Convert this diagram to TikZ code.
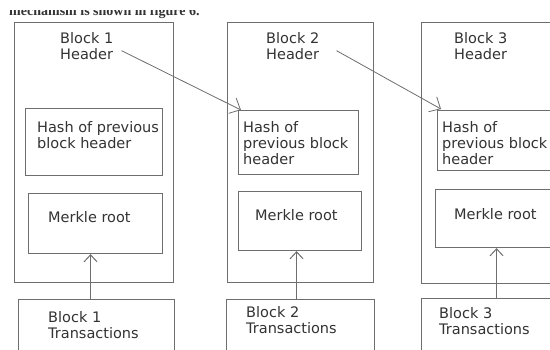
\documentclass[tikz,border=0pt]{standalone}
\usepackage{fontspec}
\setmainfont{DejaVu Sans}
\newfontfamily\capfont{Liberation Serif}
\usepackage{tikz}
\usetikzlibrary{arrows.meta,positioning}
\definecolor{edge}{HTML}{6E6E6E}
\definecolor{ink}{HTML}{333333}

\begin{document}
\begin{tikzpicture}[
  x=1pt, y=-1pt,
  box/.style={draw=edge, line width=1.1pt, anchor=north west, inner sep=0pt},
  txt/.style={anchor=north west, inner sep=0pt, align=left, text=ink, font=\fontsize{14.5}{16}\selectfont},
  arr/.style={-{Straight Barb[length=9pt,width=17pt]}, draw=edge, line width=0.8pt},
  uarr/.style={-{Straight Barb[length=7pt,width=13pt]}, draw=edge, line width=1pt}
]
  \useasboundingbox[fill=white] (0,0) rectangle (550,349);
  \clip (0,0) rectangle (550,349);

  % tail of the sentence above the figure
  \begin{scope}
    \clip (0,10.5) rectangle (550,349);
    \node[anchor=base west, inner sep=0pt, text=ink, font=\capfont\bfseries\fontsize{14}{16}\selectfont] (cap) at (9,15) {mechanism is shown in figure 6.};
  \end{scope}

  % Block 1
  \node[box, minimum width=159pt, minimum height=260pt] (blk1) at (14,22) {};
  \node[box, minimum width=137pt, minimum height=67pt] (hash1) at (25,108) {};
  \node[box, minimum width=134pt, minimum height=60pt] (mrk1) at (28,193) {};
  \node[box, minimum width=156pt, minimum height=70pt] (tx1) at (18,299) {};
  \node[txt, below right=10.2pt and 46pt of blk1.north west] (hdr1) {Block 1\\Header};
  \node[txt, below right=13.2pt and 12pt of hash1.north west] (hashtxt1) {Hash of previous\\block header};
  \node[txt, below right=18.2pt and 20pt of mrk1.north west] (mrktxt1) {Merkle root};
  \node[txt, below right=12.2pt and 30pt of tx1.north west] (txtxt1) {Block 1\\Transactions};

  % Block 2
  \node[box, minimum width=146pt, minimum height=260pt] (blk2) at (227,22) {};
  \node[box, minimum width=120pt, minimum height=64pt] (hash2) at (238,110) {};
  \node[box, minimum width=123pt, minimum height=59pt] (mrk2) at (238,191) {};
  \node[box, minimum width=148pt, minimum height=70pt] (tx2) at (226,299) {};
  \node[txt, below right=10.2pt and 39pt of blk2.north west] (hdr2) {Block 2\\Header};
  \node[txt, below right=11.2pt and 5pt of hash2.north west] (hashtxt2) {Hash of\\previous block\\header};
  \node[txt, below right=18.2pt and 17pt of mrk2.north west] (mrktxt2) {Merkle root};
  \node[txt, below right=7.2pt and 20pt of tx2.north west] (txtxt2) {Block 2\\Transactions};

  % Block 3 (runs off the right edge)
  \node[box, minimum width=170pt, minimum height=261pt] (blk3) at (421,22) {};
  \node[box, minimum width=145pt, minimum height=60pt] (hash3) at (437,110) {};
  \node[box, minimum width=145pt, minimum height=58pt] (mrk3) at (435,189) {};
  \node[box, minimum width=170pt, minimum height=70pt] (tx3) at (421,298) {};
  \node[txt, below right=10.2pt and 33pt of blk3.north west] (hdr3) {Block 3\\Header};
  \node[txt, below right=11.2pt and 5pt of hash3.north west] (hashtxt3) {Hash of\\previous block\\header};
  \node[txt, below right=19.2pt and 19pt of mrk3.north west] (mrktxt3) {Merkle root};
  \node[txt, below right=9.2pt and 18pt of tx3.north west] (txtxt3) {Block 3\\Transactions};

  % Header -> hash of previous header
  \draw[arr] ([xshift=8pt,yshift=-4.6pt]hdr1.east) -- ([xshift=3pt]hash2.north west);
  \draw[arr] ([xshift=17pt,yshift=-4.6pt]hdr2.east) -- ([xshift=4pt,yshift=1pt]hash3.north west);

  % Transactions -> Merkle root
  \draw[uarr] ([xshift=-5pt]mrk1.south |- tx1.north) -- ([xshift=-5pt]mrk1.south);
  \draw[uarr] ([xshift=-3.5pt]mrk2.south |- tx2.north) -- ([xshift=-3.5pt]mrk2.south);
  \draw[uarr] ([xshift=-11.5pt]mrk3.south |- tx3.north) -- ([xshift=-11.5pt]mrk3.south);
\end{tikzpicture}
\end{document}
